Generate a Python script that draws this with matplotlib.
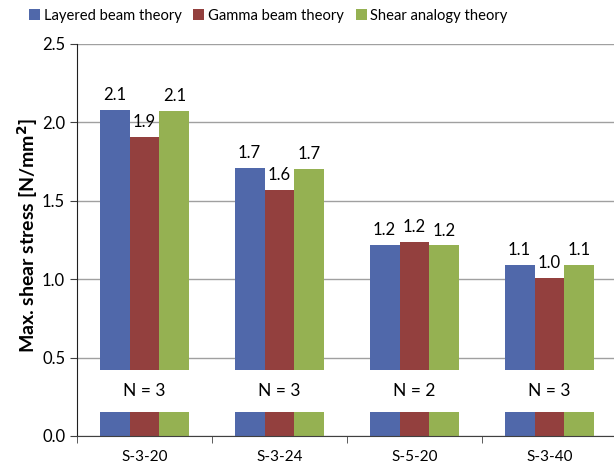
import numpy as np
import matplotlib
matplotlib.use("Agg")
import matplotlib.pyplot as plt
from matplotlib.patches import Rectangle

plt.rcParams['font.family'] = ['Lato', 'DejaVu Sans']

categories = ['S-3-20', 'S-3-24', 'S-5-20', 'S-3-40']
series = ['Layered beam theory', 'Gamma beam theory', 'Shear analogy theory']
layered = [2.08, 1.71, 1.22, 1.09]
gamma = [1.91, 1.57, 1.235, 1.005]
shear = [2.075, 1.705, 1.215, 1.09]
counts = [3, 3, 2, 3]
colors = ['#5068AA', '#93403E', '#95B152']

fig = plt.figure(figsize=(6.14, 4.70), dpi=100)
ax = fig.add_axes([77 / 614, 34 / 470, 540 / 614, 392 / 470])

x = np.arange(len(categories))
w = 0.222
for i, (vals, name, col) in enumerate(zip([layered, gamma, shear], series, colors)):
    pos = x + (i - 1) * w
    ax.bar(pos, vals, w, color=col, label=name, zorder=2)
    for p, v in zip(pos, vals):
        ax.annotate('%.1f' % v, (p, v), xytext=(0, 5), textcoords='offset points',
                    ha='center', va='bottom', fontsize=12, zorder=4)

# white band hiding the bars (axis break) with sample size
for xi, n in zip(x, counts):
    ax.add_patch(Rectangle((xi - 1.5 * w - 0.01, 0.152), 3 * w + 0.02, 0.27,
                           facecolor='white', edgecolor='none', zorder=3))
    ax.text(xi, 0.285, 'N = %d' % n, ha='center', va='center', fontsize=12.5, zorder=4)

ax.set_xlim(-0.5, 3.5)
ax.set_ylim(0, 2.5)
ax.set_yticks([0, 0.5, 1.0, 1.5, 2.0, 2.5])
ax.set_yticklabels(['0.0', '0.5', '1.0', '1.5', '2.0', '2.5'], fontsize=12)
ax.yaxis.grid(True, color='#A0A0A0', linewidth=1.0, zorder=0)
ax.set_axisbelow(True)

ax.set_xticks(x)
ax.set_xticklabels(categories, fontsize=11)
ax.tick_params(axis='x', length=0, pad=10)
ax.set_xticks(np.arange(-0.5, 3.6, 1), minor=True)
ax.tick_params(axis='x', which='minor', length=5, color='#404040')
ax.tick_params(axis='y', length=5, color='#404040')

ax.spines['top'].set_visible(False)
ax.spines['right'].set_visible(False)
ax.spines['bottom'].set_color('#404040')
ax.spines['left'].set_color('#202020')

ax.set_ylabel('Max. shear stress [N/mm$^\\mathbf{2}$]', fontsize=14, fontweight='bold')
ax.yaxis.set_label_coords(-0.068, 0.51)

fig.legend(loc='center', bbox_to_anchor=(0.437, 0.966), ncol=3, frameon=False,
           fontsize=10.6, handlelength=0.75, handleheight=0.75, handletextpad=0.25,
           columnspacing=0.8)

fig.savefig('out.png', dpi=100)
